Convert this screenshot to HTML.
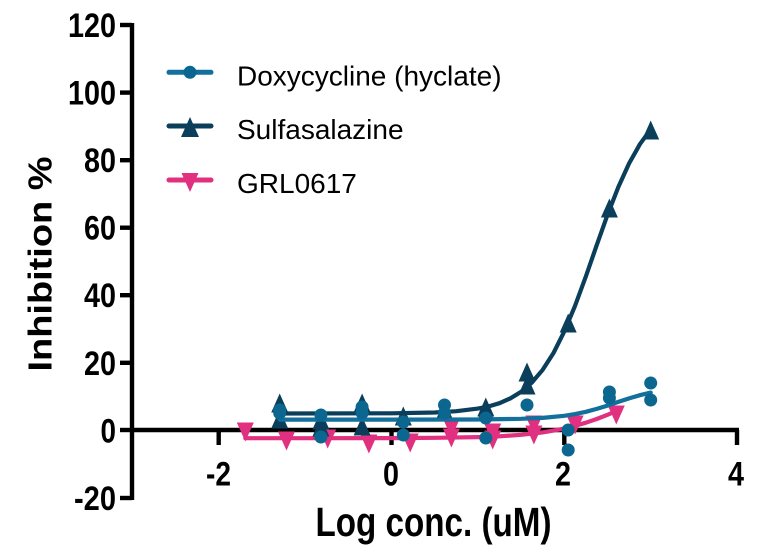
<!DOCTYPE html>
<html>
<head>
<meta charset="utf-8">
<style>
  html, body { margin: 0; padding: 0; background: #ffffff; }
  svg { display: block; }
  text { font-family: "Liberation Sans", Arial, sans-serif; }
</style>
</head>
<body>
<svg width="778" height="548" viewBox="0 0 778 548" xmlns="http://www.w3.org/2000/svg">
  <rect width="778" height="548" fill="#ffffff"/>

  <!-- Axes -->
  <g stroke="#000" stroke-width="4.4" fill="none">
    <line x1="132" y1="23" x2="132" y2="500"/>
    <line x1="130" y1="430" x2="739" y2="430"/>
    <!-- y ticks -->
    <line x1="120" y1="25" x2="132" y2="25"/>
    <line x1="120" y1="92.6" x2="132" y2="92.6"/>
    <line x1="120" y1="160.2" x2="132" y2="160.2"/>
    <line x1="120" y1="227.7" x2="132" y2="227.7"/>
    <line x1="120" y1="295.2" x2="132" y2="295.2"/>
    <line x1="120" y1="362.8" x2="132" y2="362.8"/>
    <line x1="120" y1="430" x2="132" y2="430"/>
    <line x1="120" y1="498" x2="132" y2="498"/>
    <!-- x ticks -->
    <line x1="218.7" y1="430" x2="218.7" y2="445"/>
    <line x1="391.5" y1="430" x2="391.5" y2="445"/>
    <line x1="564.3" y1="430" x2="564.3" y2="445"/>
    <line x1="737" y1="430" x2="737" y2="445"/>
  </g>

  <!-- Y tick labels -->
  <g font-size="34" font-weight="bold" text-anchor="end" fill="#000">
    <text x="116" y="37" textLength="48" lengthAdjust="spacingAndGlyphs">120</text>
    <text x="116" y="104.6" textLength="48" lengthAdjust="spacingAndGlyphs">100</text>
    <text x="116" y="172.2" textLength="32" lengthAdjust="spacingAndGlyphs">80</text>
    <text x="116" y="239.7" textLength="32" lengthAdjust="spacingAndGlyphs">60</text>
    <text x="116" y="307.2" textLength="32" lengthAdjust="spacingAndGlyphs">40</text>
    <text x="116" y="374.8" textLength="32" lengthAdjust="spacingAndGlyphs">20</text>
    <text x="116" y="442.3" textLength="15.5" lengthAdjust="spacingAndGlyphs">0</text>
    <text x="116" y="510" textLength="42" lengthAdjust="spacingAndGlyphs">-20</text>
  </g>

  <!-- X tick labels -->
  <g font-size="34" font-weight="bold" text-anchor="middle" fill="#000">
    <text x="218.5" y="485.5" textLength="25" lengthAdjust="spacingAndGlyphs">-2</text>
    <text x="391" y="485.5" textLength="16" lengthAdjust="spacingAndGlyphs">0</text>
    <text x="563" y="485.5" textLength="16" lengthAdjust="spacingAndGlyphs">2</text>
    <text x="736" y="485.5" textLength="16" lengthAdjust="spacingAndGlyphs">4</text>
  </g>

  <!-- Axis titles -->
  <text x="315.5" y="536" font-size="41" font-weight="bold" fill="#000" textLength="236" lengthAdjust="spacingAndGlyphs">Log conc. (uM)</text>
  <text transform="translate(51.5,264) rotate(-90)" x="0" y="0" text-anchor="middle" font-size="33" font-weight="bold" fill="#000" textLength="215" lengthAdjust="spacingAndGlyphs">Inhibition %</text>

  <!-- GRL0617 (pink) -->
  <polyline fill="none" stroke="#e0307f" stroke-width="4.2" stroke-linejoin="round" stroke-linecap="round"
    points="245.3,438.2 320,438.2 391.5,438.1 434.7,437.8 477.9,437.1 499.5,436.3 521.1,434.8 542.7,432.4 553.5,430.6 564.3,428.5 575.1,425.8 585.9,422.7 596.7,419.0 607.5,414.8 616.3,411.0"/>
  <g fill="#e0307f">
    <path d="M236.8,422.5 L253.8,422.5 L245.3,441.5 Z"/>
    <path d="M278,431.5 L295,431.5 L286.5,450.5 Z"/>
    <path d="M319.2,429.5 L336.2,429.5 L327.7,448.5 Z"/>
    <path d="M360.4,434.5 L377.4,434.5 L368.9,453.5 Z"/>
    <path d="M401.7,433.5 L418.7,433.5 L410.2,452.5 Z"/>
    <path d="M442.9,418.5 L459.9,418.5 L451.4,437.5 Z"/>
    <path d="M442.9,428.5 L459.9,428.5 L451.4,447.5 Z"/>
    <path d="M484.2,423.5 L501.2,423.5 L492.7,442.5 Z"/>
    <path d="M484.2,430.5 L501.2,430.5 L492.7,449.5 Z"/>
    <path d="M525.4,415.5 L542.4,415.5 L533.9,434.5 Z"/>
    <path d="M525.4,425.5 L542.4,425.5 L533.9,444.5 Z"/>
    <path d="M566.6,415.5 L583.6,415.5 L575.1,434.5 Z"/>
    <path d="M607.8,405.5 L624.8,405.5 L616.3,424.5 Z"/>
  </g>

  <!-- Sulfasalazine (dark teal) -->
  <polyline fill="none" stroke="#0b3e5a" stroke-width="4.2" stroke-linejoin="round" stroke-linecap="round"
    points="279.7,413.5 391.5,413.3 434.7,412.5 456.3,411.2 477.9,408.6 488.7,406.4 499.5,403.2 510.3,398.4 521.1,391.8 531.9,382.5 542.7,369.8 553.5,353.0 564.3,331.4 575.1,305.7 585.9,276.3 596.7,245.2 607.5,214.8 618.3,187.1 629.1,163.4 639.9,144.2 650.7,129.3"/>
  <g fill="#0b3e5a">
    <path d="M279.7,393.5 L288.2,412.5 L271.2,412.5 Z"/>
    <path d="M279.7,409.5 L288.2,428.5 L271.2,428.5 Z"/>
    <path d="M320.9,417.5 L329.4,436.5 L312.4,436.5 Z"/>
    <path d="M320.9,410.5 L329.4,429.5 L312.4,429.5 Z"/>
    <path d="M362.1,393.5 L370.6,412.5 L353.6,412.5 Z"/>
    <path d="M362.1,416.5 L370.6,435.5 L353.6,435.5 Z"/>
    <path d="M403.3,406.5 L411.8,425.5 L394.8,425.5 Z"/>
    <path d="M444.5,400.5 L453,419.5 L436,419.5 Z"/>
    <path d="M485.8,397.5 L494.3,416.5 L477.3,416.5 Z"/>
    <path d="M485.8,401.5 L494.3,420.5 L477.3,420.5 Z"/>
    <path d="M527,362.5 L535.5,381.5 L518.5,381.5 Z"/>
    <path d="M527,375.5 L535.5,394.5 L518.5,394.5 Z"/>
    <path d="M568.2,313.5 L576.7,332.5 L559.7,332.5 Z"/>
    <path d="M609.4,198.5 L617.9,217.5 L600.9,217.5 Z"/>
    <path d="M650.7,120.5 L659.2,139.5 L642.2,139.5 Z"/>
  </g>

  <!-- Doxycycline (teal blue) -->
  <polyline fill="none" stroke="#136f9b" stroke-width="4.2" stroke-linejoin="round" stroke-linecap="round"
    points="279.7,419.6 391.5,419.6 477.9,419.5 521.1,418.8 542.7,417.9 564.3,415.8 575.1,414.1 585.9,411.8 596.7,408.9 607.5,405.6 618.3,401.9 629.1,398.4 639.9,395.2 650.7,392.6"/>
  <g fill="#0b6790">
    <circle cx="279.7" cy="413" r="6.5"/>
    <circle cx="279.7" cy="410" r="6.5"/>
    <circle cx="320.9" cy="415" r="6.5"/>
    <circle cx="320.9" cy="437" r="6.5"/>
    <circle cx="362.1" cy="407" r="6.5"/>
    <circle cx="362.1" cy="413" r="6.5"/>
    <circle cx="403.3" cy="422" r="6.5"/>
    <circle cx="403.3" cy="435" r="6.5"/>
    <circle cx="444.5" cy="405" r="6.5"/>
    <circle cx="444.5" cy="413" r="6.5"/>
    <circle cx="485.8" cy="418" r="6.5"/>
    <circle cx="485.8" cy="438" r="6.5"/>
    <circle cx="527" cy="405" r="6.5"/>
    <circle cx="568.2" cy="430" r="6.5"/>
    <circle cx="568.2" cy="450" r="6.5"/>
    <circle cx="609.4" cy="392" r="6.5"/>
    <circle cx="609.4" cy="398" r="6.5"/>
    <circle cx="650.7" cy="383" r="6.5"/>
    <circle cx="650.7" cy="400" r="6.5"/>
  </g>

  <!-- Legend -->
  <g stroke-width="5" stroke-linecap="round">
    <line x1="169" y1="72.3" x2="211" y2="72.3" stroke="#136f9b"/>
    <line x1="169" y1="126" x2="211" y2="126" stroke="#0b3e5a"/>
    <line x1="169" y1="180" x2="211" y2="180" stroke="#e0307f"/>
  </g>
  <circle cx="190" cy="72.3" r="6.5" fill="#0b6790"/>
  <path d="M190,117 L199,137 L181,137 Z" fill="#0b3e5a"/>
  <path d="M181.5,173 L198.5,173 L190,192 Z" fill="#e0307f"/>
  <g font-size="28" fill="#000">
    <text x="237" y="85.5">Doxycycline (hyclate)</text>
    <text x="237" y="139">Sulfasalazine</text>
    <text x="237" y="193">GRL0617</text>
  </g>
</svg>
</body>
</html>
